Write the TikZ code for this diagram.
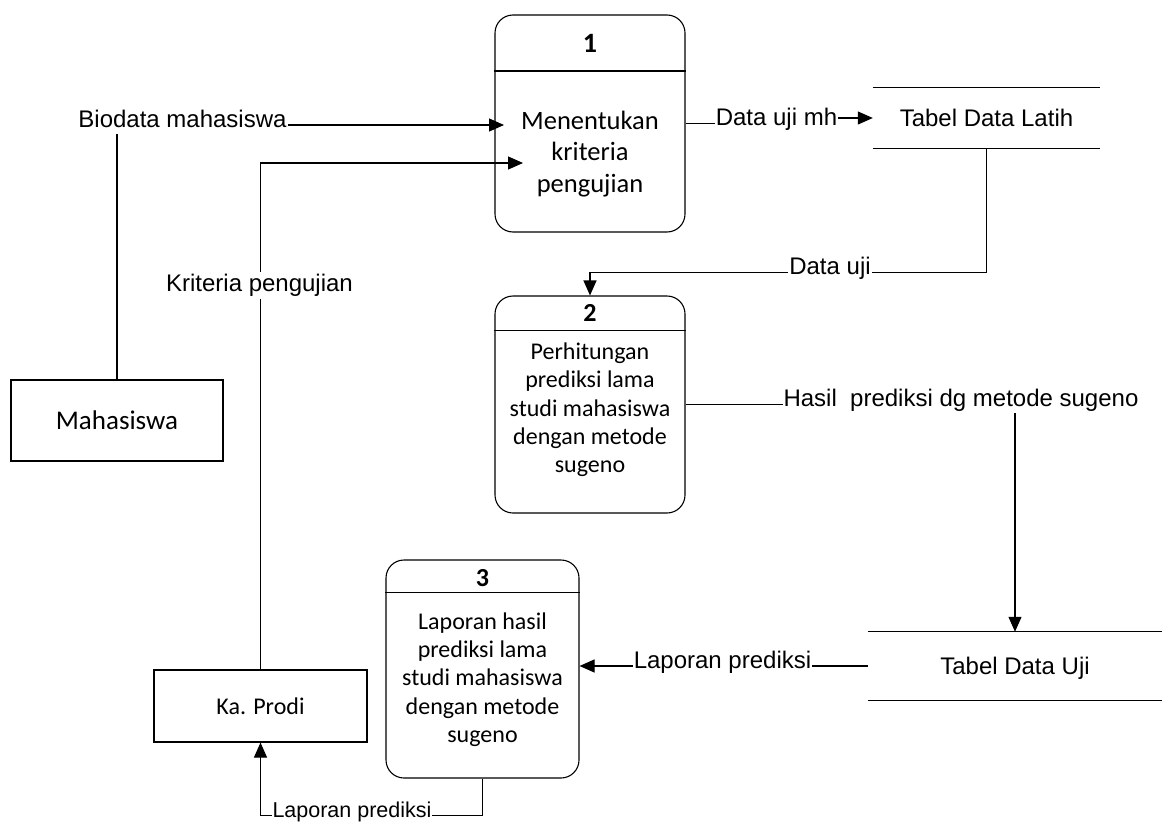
\documentclass[tikz,border=0pt]{standalone}
\usepackage{fontspec}
\setmainfont{Carlito}
\newfontfamily\arialf{Liberation Sans}
\usetikzlibrary{arrows.meta}
\begin{document}
\begin{tikzpicture}[x=1pt,y=-1pt,
  proc/.style={draw, rounded corners=18pt, line width=1.1pt, inner sep=0pt},
  ent/.style={draw, line width=1.1pt, inner sep=0pt, font=\fontsize{24}{28}\selectfont},
  store/.style={inner sep=0pt, text depth=0pt, font=\arialf\fontsize{24}{28}\selectfont},
  lbl/.style={fill=white, inner sep=1pt, anchor=mid, font=\arialf\fontsize{24}{28}\selectfont},
  num/.style={font=\bfseries\fontsize{26}{30}\selectfont},
  ptxt/.style={align=center, font=\fontsize{24}{28.3}\selectfont},
  flow/.style={line width=1.1pt},
  arr/.style={flow, -{Triangle[length=15pt,width=13pt]}}]
\useasboundingbox (0,0) rectangle (1162,835);

% processes
\node[proc, minimum width=190pt, minimum height=217pt] (p1) at (590,123.5) {};
\draw[flow] ([yshift=-56.5pt]p1.north west) -- ([yshift=-56.5pt]p1.north east);
\node[num, font=\bfseries\fontsize{28}{32}\selectfont] (n1) at (590,43) {1};
\node[ptxt, font=\fontsize{26.5}{31.7}\selectfont] (t1) at (590,154) {Menentukan\\kriteria\\pengujian};

\node[proc, minimum width=190pt, minimum height=217pt] (p2) at (590,404.5) {};
\draw[flow] ([yshift=-35pt]p2.north west) -- ([yshift=-35pt]p2.north east);
\node[num] (n2) at (590,313) {2};
\node[ptxt] (t2) at (590,410) {Perhitungan\\prediksi lama\\studi mahasiswa\\dengan metode\\sugeno};

\node[proc, minimum width=193pt, minimum height=218pt] (p3) at (482.5,669) {};
\draw[flow] ([yshift=-33pt]p3.north west) -- ([yshift=-33pt]p3.north east);
\node[num] (n3) at (482.5,578) {3};
\node[ptxt] (t3) at (482.5,679.5) {Laporan hasil\\prediksi lama\\studi mahasiswa\\dengan metode\\sugeno};

% external entities
\node[ent, minimum width=212pt, minimum height=81pt, font=\fontsize{27}{31}\selectfont] (mhs) at (117,420.5) {Mahasiswa};
\node[ent, minimum width=213pt, minimum height=72pt] (kap) at (260.5,706) {Ka. Prodi};

% data stores
\node[store, minimum width=227pt, minimum height=60pt] (ds1) at (986.5,118) {Tabel Data Latih};
\draw[flow] (ds1.north west) -- (ds1.north east) (ds1.south west) -- (ds1.south east);
\node[store, minimum width=294pt, minimum height=68pt] (ds2) at (1015,666) {Tabel Data Uji};
\draw[flow] (ds2.north west) -- (ds2.north east) (ds2.south west) -- (ds2.south east);

% free ends inside process 1
\coordinate (bin) at (504,125);
\coordinate (kin) at (523,163);

% flows
\draw[arr] (mhs.north) |- (bin)
  node[lbl, inner ysep=6pt] (lb1) at (182.5,125) {Biodata mahasiswa};
\draw[arr] (kap.north) |- (kin)
  node[lbl, anchor=base, inner sep=2pt] (lb2) at (259.5,291.7) {Kriteria pengujian};
\draw[arr] (p1.east) -- ++(93,0) |- (ds1.west)
  node[lbl] (lb3) at (776.5,123.5) {Data uji mh};
\draw[arr] (ds1.south) -- ++(0,124) -| (p2.north)
  node[lbl] (lb4) at (830,272) {Data uji};
\draw[arr] (p2.east) -| (ds2.north)
  node[lbl] (lb5) at (961,404.5) {Hasil\ \ prediksi dg metode sugeno};
\draw[arr] (ds2.west) -- (p3.east |- ds2.west)
  node[lbl] (lb6) at (722.5,666) {Laporan prediksi};
\draw[arr] (p3.south) -- ++(0,37) -| (kap.south)
  node[lbl, font=\arialf\fontsize{21.5}{26}\selectfont] (lb7) at (352,815) {Laporan prediksi};
\end{tikzpicture}
\end{document}
